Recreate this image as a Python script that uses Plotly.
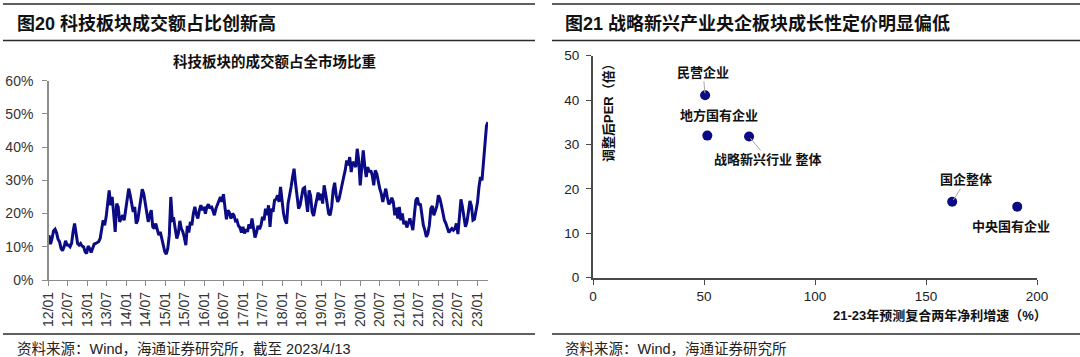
import plotly.graph_objects as go
import pandas as pd

W, H = 1080, 357

# ---------------- data: left chart (科技板块成交额占比, %, bi-weekly) ----------------
share_pct = [
    13.5, 10.8, 12.5, 14.8, 15.3, 14.2, 12.3, 11.5, 9.5, 8.8, 10.0, 11.8, 10.5,
    10.5, 10.0, 11.0, 14.5, 17.0, 14.0, 11.0, 10.5, 11.0, 10.2, 10.0, 8.5, 8.0,
    10.2, 9.5, 8.3, 9.8, 10.8, 11.0, 11.2, 11.5, 12.5, 15.0, 18.0, 16.5, 19.0,
    23.0, 27.0, 22.5, 25.0, 20.0, 14.5, 23.0, 22.0, 17.5, 18.5, 19.5, 18.0, 21.0,
    24.5, 27.5, 25.5, 22.5, 20.5, 22.0, 17.0, 18.0, 21.0, 23.5, 27.3, 26.0, 23.0,
    20.0, 17.5, 19.5, 21.0, 16.0, 15.5, 17.0, 15.0, 13.5, 14.5, 12.5, 10.5, 8.5,
    7.8, 9.5, 13.5, 25.0, 18.0, 18.3, 15.3, 12.5, 14.0, 17.8, 15.5, 14.5, 12.8,
    10.5, 16.3, 14.3, 17.5, 16.5, 20.0, 22.0, 19.8, 18.5, 21.0, 22.5, 21.0, 22.0,
    20.0, 22.0, 22.8, 21.5, 22.3, 20.5, 19.5, 21.5, 22.5, 24.0, 25.0, 23.5, 25.8,
    22.0, 18.3, 21.0, 20.3, 18.5, 20.0, 19.5, 17.8, 18.0, 16.3, 15.8, 14.3, 16.0,
    14.0, 15.3, 14.5, 16.8, 15.5, 18.5, 16.0, 12.8, 14.3, 16.3, 15.3, 16.5, 19.0,
    18.0, 21.5, 19.5, 22.5, 16.0, 21.5, 20.5, 24.0, 24.3, 25.5, 23.5, 28.0, 23.5,
    20.0, 18.0, 17.0, 23.0, 25.0, 28.0, 31.0, 33.5, 29.0, 25.0, 21.5, 22.5, 25.5,
    27.5, 27.8, 23.5, 20.5, 27.0, 25.3, 20.5, 19.3, 21.8, 24.3, 26.3, 24.0, 26.0,
    23.0, 28.5, 26.0, 22.0, 20.0, 19.5, 22.0, 27.0, 29.3, 25.5, 23.5, 24.5, 27.0,
    28.5, 31.0, 33.0, 36.0, 34.5, 37.0, 32.5, 35.5, 35.0, 34.0, 39.5, 36.0, 28.5,
    35.0, 39.0, 34.3, 31.0, 34.0, 32.5, 33.0, 31.5, 28.5, 33.0, 32.0, 29.5, 27.5,
    26.0, 23.5, 25.5, 27.5, 25.0, 22.8, 23.3, 24.8, 23.5, 19.5, 21.8, 18.5, 22.0,
    18.0, 20.0, 16.8, 17.8, 15.8, 17.0, 18.5, 17.0, 15.0, 19.5, 24.0, 24.8, 22.5,
    23.0, 19.0, 16.5, 15.0, 13.0, 14.0, 16.5, 21.5, 22.3, 19.5, 21.0, 22.3, 25.5,
    24.5, 22.5, 20.0, 18.0, 17.0, 15.5, 14.3, 15.0, 15.5, 15.0, 15.5, 17.0, 13.8,
    19.0, 24.3, 22.0, 18.3, 16.0, 17.5, 21.5, 23.8, 22.3, 18.0, 18.3, 21.0, 23.3,
    28.0, 31.0, 30.0, 36.0, 42.0, 46.5, 47.5,
]
series_start = "2012-01-06"
series_end = "2023-04-13"
dates = pd.date_range(series_start, series_end, periods=len(share_pct))

x_tick_vals = [
    "2012-01-01", "2012-07-01", "2013-01-01", "2013-07-01", "2014-01-01", "2014-07-01",
    "2015-01-01", "2015-07-01", "2016-01-01", "2016-07-01", "2017-01-01", "2017-07-01",
    "2018-01-01", "2018-07-01", "2019-01-01", "2019-07-01", "2020-01-01", "2020-07-01",
    "2021-01-01", "2021-07-01", "2022-01-01", "2022-07-01", "2023-01-01",
]
x_tick_text = [
    "12/01", "12/07", "13/01", "13/07", "14/01", "14/07", "15/01", "15/07",
    "16/01", "16/07", "17/01", "17/07", "18/01", "18/07", "19/01", "19/07",
    "20/01", "20/07", "21/01", "21/07", "22/01", "22/07", "23/01",
]

# ---------------- data: right chart (scatter) ----------------
group_names = ["民营企业", "地方国有企业", "战略新兴行业 整体", "国企整体", "中央国有企业"]
growth_pct = [50.5, 51.5, 70.3, 161.8, 191.1]
per_ratio = [41.1, 32.0, 31.8, 17.1, 16.0]

# label placement (pixel offsets from point), leader line on/off
label_dx = [-2, 12, 19, 14, -6]
label_dy = [-23, -20, 23, -22, 20]
label_leader = [True, False, True, True, False]

NAVY = "#0B0B84"
TICK_FONT = "Liberation Sans, Arial, Noto Sans CJK SC"
CJK_FONT = "Liberation Sans, Noto Sans CJK SC"


def fx(p):
    return p / W


def fy(p):
    return 1 - p / H


fig = go.Figure()
fig.add_trace(go.Scatter(
    x=dates, y=share_pct, mode="lines",
    line=dict(color=NAVY, width=3), xaxis="x", yaxis="y",
    hoverinfo="skip",
))
fig.add_trace(go.Scatter(
    x=growth_pct, y=per_ratio, mode="markers",
    marker=dict(color=NAVY, size=10), xaxis="x2", yaxis="y2",
    text=group_names, hoverinfo="skip",
))

left_axis_col = "#8C8C8C"
right_axis_col = "#4A4A4A"

layout = dict(
    width=W, height=H,
    margin=dict(l=0, r=0, t=0, b=0, pad=0, autoexpand=False),
    paper_bgcolor="white", plot_bgcolor="white",
    showlegend=False, hovermode=False,
    xaxis=dict(
        domain=[fx(48.5), fx(488)], anchor="y", type="date", automargin=False,
        range=[x_tick_vals[0], series_end],
        tickmode="array", tickvals=x_tick_vals, ticktext=x_tick_text,
        tickangle=-90, ticks="outside", ticklen=5, tickcolor=left_axis_col,
        showline=True, linecolor=left_axis_col, linewidth=1.3,
        showgrid=False, zeroline=False,
        tickfont=dict(family=TICK_FONT, size=14, color="#333333"),
    ),
    yaxis=dict(
        domain=[fy(280), fy(80.7)], anchor="x", automargin=False,
        range=[0, 60], dtick=10, ticksuffix="%",
        ticks="outside", ticklen=5, tickcolor=left_axis_col,
        showline=True, linecolor=left_axis_col, linewidth=1.3,
        showgrid=False, zeroline=False, ticklabelstandoff=6,
        tickfont=dict(family=TICK_FONT, size=14, color="#333333"),
    ),
    xaxis2=dict(
        domain=[fx(593), fx(1037)], anchor="y2", automargin=False,
        range=[0, 200], dtick=50,
        ticks="outside", ticklen=5, tickcolor=right_axis_col,
        showline=True, linecolor=right_axis_col, linewidth=2,
        showgrid=False, zeroline=False,
        tickfont=dict(family=TICK_FONT, size=13.5, color="#222222"),
    ),
    yaxis2=dict(
        domain=[fy(277.7), fy(55.7)], anchor="x2", automargin=False,
        range=[0, 50], dtick=10,
        ticks="outside", ticklen=5, tickcolor=right_axis_col,
        showline=True, linecolor=right_axis_col, linewidth=2,
        showgrid=False, zeroline=False, ticklabelstandoff=4,
        tickfont=dict(family=TICK_FONT, size=13.5, color="#222222"),
    ),
)
fig.update_layout(**layout)

# ---------------- frame lines ----------------
line_style = dict(color="#2A2A2A", width=1.6)
shapes = []
for (x0, x1) in [(3, 535), (552, 1080)]:
    for yy in [4, 40.5, 334]:
        shapes.append(dict(type="line", xref="paper", yref="paper",
                           x0=fx(x0), x1=fx(x1), y0=fy(yy), y1=fy(yy),
                           line=line_style))
fig.update_layout(shapes=shapes)

annotations = []
# panel titles
annotations.append(dict(
    xref="paper", yref="paper", x=fx(15), y=fy(23.5), xanchor="left", yanchor="middle",
    text="<b>图20 科技板块成交额占比创新高</b>", showarrow=False,
    font=dict(family=CJK_FONT, size=18, color="#111111"),
))
annotations.append(dict(
    xref="paper", yref="paper", x=fx(563), y=fy(23.5), xanchor="left", yanchor="middle",
    text="<b>图21 战略新兴产业央企板块成长性定价明显偏低</b>", showarrow=False,
    font=dict(family=CJK_FONT, size=18, color="#111111"),
))
# chart subtitle
annotations.append(dict(
    xref="paper", yref="paper", x=fx(274), y=fy(61), xanchor="center", yanchor="middle",
    text="<b>科技板块的成交额占全市场比重</b>", showarrow=False,
    font=dict(family=CJK_FONT, size=14.5, color="#111111"),
))
# sources
annotations.append(dict(
    xref="paper", yref="paper", x=fx(15), y=fy(349), xanchor="left", yanchor="middle",
    text="资料来源：Wind，海通证券研究所，截至 2023/4/13", showarrow=False,
    font=dict(family=CJK_FONT, size=14.5, color="#222222"),
))
annotations.append(dict(
    xref="paper", yref="paper", x=fx(563), y=fy(349), xanchor="left", yanchor="middle",
    text="资料来源：Wind，海通证券研究所", showarrow=False,
    font=dict(family=CJK_FONT, size=14.5, color="#222222"),
))
# right axis titles
annotations.append(dict(
    xref="paper", yref="paper", x=fx(608), y=fy(110), xanchor="center", yanchor="middle",
    text="<b>调整后PER（倍）</b>", textangle=-90, showarrow=False,
    font=dict(family=CJK_FONT, size=13, color="#111111"),
))
annotations.append(dict(
    xref="paper", yref="paper", x=fx(1049), y=fy(315), xanchor="right", yanchor="middle",
    text="<b>21-23年预测复合两年净利增速（%）</b>", showarrow=False,
    font=dict(family=CJK_FONT, size=13, color="#111111"),
))
# scatter labels
for name, gx, py, dx, dy, lead in zip(group_names, growth_pct, per_ratio,
                                      label_dx, label_dy, label_leader):
    if lead:
        annotations.append(dict(
            xref="x2", yref="y2", x=gx, y=py, text=f"<b>{name}</b>",
            showarrow=True, arrowhead=0, arrowwidth=1, arrowcolor="#A8A8A8",
            ax=dx, ay=dy, standoff=2,
            font=dict(family=CJK_FONT, size=13, color="#111111"),
        ))
    else:
        annotations.append(dict(
            xref="x2", yref="y2", x=gx, y=py, text=f"<b>{name}</b>",
            showarrow=False, xshift=dx, yshift=-dy,
            font=dict(family=CJK_FONT, size=13, color="#111111"),
        ))
fig.update_layout(annotations=annotations)

fig.write_html(
    "out.html",
    config={"displayModeBar": False, "staticPlot": True},
    post_script="document.body.style.margin='0';document.body.style.overflow='hidden';",
)
